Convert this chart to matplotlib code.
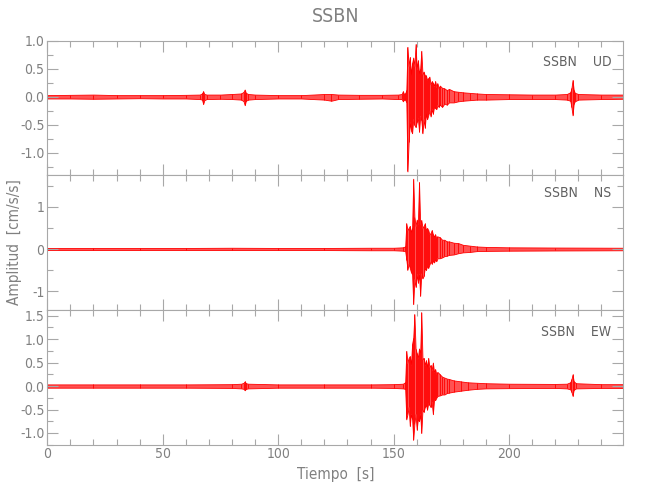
# Seismogram SSBN - three components
import matplotlib
matplotlib.use('Agg')
import matplotlib.pyplot as plt
from matplotlib.ticker import MultipleLocator

plt.rcParams['font.family'] = ['Liberation Sans Narrow', 'DejaVu Sans']
plt.rcParams['font.stretch'] = 'condensed'

# Data: envelope knots (time [s], max, min)
ud_t = [0, 10, 20, 30, 40, 50, 60, 66, 67, 67.5, 68, 69, 75, 80, 84, 85, 85.5, 86, 87,
        90, 100, 110, 120, 123, 126, 135, 145, 152, 153.5, 154, 154.5, 155, 155.5,
        156, 156.5, 157, 157.5, 158, 158.5, 159, 159.5, 160, 160.5, 161, 161.5, 162,
        162.5, 163, 163.5, 164, 164.5, 165, 165.5, 166, 166.5, 167, 167.5, 168, 168.5,
        169, 169.5, 170, 171, 172, 173, 174, 176, 178, 180, 183, 186, 190, 200, 210,
        220, 225, 226.5, 227, 227.5, 228, 228.5, 230, 240, 249.5]
ud_hi = [0.03, 0.035, 0.04, 0.03, 0.03, 0.03, 0.035, 0.04, 0.06, 0.10, 0.05, 0.04, 0.04,
         0.05, 0.06, 0.09, 0.13, 0.07, 0.05, 0.04, 0.03, 0.03, 0.05, 0.05, 0.04, 0.035,
         0.035, 0.04, 0.05, 0.10, 0.05, 0.06, 0.12, 0.89, 0.55, 0.71, 0.40, 0.60, 0.70,
         0.55, 0.94, 0.50, 0.65, 0.42, 0.50, 0.82, 0.40, 0.45, 0.38, 0.38, 0.30, 0.33,
         0.36, 0.22, 0.28, 0.25, 0.20, 0.28, 0.18, 0.24, 0.15, 0.20, 0.16, 0.15, 0.12,
         0.14, 0.10, 0.09, 0.08, 0.07, 0.06, 0.05, 0.045, 0.04, 0.04, 0.05, 0.08, 0.15,
         0.30, 0.12, 0.07, 0.05, 0.04, 0.04]
ud_lo = [-0.03, -0.03, -0.035, -0.03, -0.025, -0.03, -0.03, -0.04, -0.05, -0.13, -0.06,
         -0.04, -0.035, -0.04, -0.05, -0.08, -0.15, -0.07, -0.05, -0.04, -0.03, -0.03,
         -0.05, -0.07, -0.04, -0.035, -0.03, -0.04, -0.04, -0.08, -0.05, -0.05, -0.10,
         -1.33, -0.80, -0.45, -0.60, -0.65, -0.40, -0.50, -0.54, -0.45, -0.38, -0.62,
         -0.35, -0.42, -0.65, -0.40, -0.55, -0.30, -0.40, -0.33, -0.25, -0.35, -0.22,
         -0.30, -0.18, -0.20, -0.22, -0.15, -0.18, -0.14, -0.18, -0.12, -0.14, -0.10,
         -0.10, -0.08, -0.07, -0.06, -0.05, -0.05, -0.04, -0.04, -0.04, -0.05, -0.07,
         -0.18, -0.33, -0.12, -0.08, -0.05, -0.04, -0.035]

ns_t = [0, 20, 40, 60, 80, 100, 120, 140, 150, 154, 155, 155.5, 156, 156.5, 157, 157.5,
        158, 158.5, 159, 159.5, 160, 160.5, 161, 161.5, 162, 162.5, 163, 163.5, 164,
        164.5, 165, 165.5, 166, 166.5, 167, 167.5, 168, 168.5, 169, 170, 171, 172, 173,
        174, 176, 178, 180, 183, 186, 190, 200, 220, 249.5]
ns_hi = [0.025, 0.025, 0.025, 0.025, 0.03, 0.025, 0.025, 0.03, 0.03, 0.04, 0.06, 0.61,
         0.45, 0.50, 0.55, 0.40, 0.50, 1.67, 0.77, 0.55, 0.70, 0.60, 1.59, 0.60, 0.69,
         0.50, 0.55, 0.61, 0.45, 0.50, 0.45, 0.35, 0.38, 0.45, 0.35, 0.30, 0.35, 0.25,
         0.30, 0.28, 0.22, 0.22, 0.18, 0.18, 0.15, 0.14, 0.10, 0.08, 0.06, 0.05, 0.04,
         0.035, 0.03]
ns_lo = [-0.025, -0.025, -0.025, -0.025, -0.025, -0.025, -0.025, -0.03, -0.03, -0.04,
         -0.05, -0.25, -0.49, -0.35, -0.45, -0.55, -0.60, -1.31, -0.72, -0.90, -0.60,
         -0.80, -0.60, -1.11, -0.56, -0.70, -0.64, -0.45, -0.50, -0.40, -0.45, -0.37,
         -0.30, -0.35, -0.28, -0.32, -0.25, -0.29, -0.22, -0.22, -0.20, -0.17, -0.16,
         -0.14, -0.13, -0.10, -0.08, -0.07, -0.05, -0.045, -0.04, -0.035, -0.03]

ew_t = [0, 20, 40, 60, 80, 84, 85, 85.5, 86, 87, 100, 120, 140, 150, 154, 155, 155.5,
        156, 156.5, 157, 157.5, 158, 158.5, 159, 159.5, 160, 160.5, 161, 161.5, 162,
        162.5, 163, 163.5, 164, 164.5, 165, 165.5, 166, 166.5, 167, 167.5, 168, 168.5,
        169, 170, 171, 172, 173, 174, 176, 179, 182, 186, 190, 200, 220, 225, 226.5,
        227, 227.5, 228, 229, 240, 249.5]
ew_hi = [0.035, 0.035, 0.035, 0.035, 0.04, 0.05, 0.07, 0.10, 0.06, 0.05, 0.035, 0.035,
         0.035, 0.04, 0.05, 0.08, 0.75, 0.50, 0.60, 0.64, 0.45, 0.90, 1.03, 1.53, 0.80,
         0.70, 0.60, 0.80, 0.70, 1.57, 0.57, 0.60, 0.45, 0.55, 0.40, 0.60, 0.40, 0.45,
         0.35, 0.50, 0.30, 0.36, 0.25, 0.30, 0.25, 0.20, 0.18, 0.16, 0.15, 0.12, 0.10,
         0.08, 0.07, 0.06, 0.05, 0.045, 0.05, 0.08, 0.14, 0.25, 0.10, 0.06, 0.04, 0.04]
ew_lo = [-0.035, -0.035, -0.035, -0.035, -0.04, -0.05, -0.06, -0.09, -0.06, -0.05,
         -0.035, -0.035, -0.035, -0.04, -0.05, -0.06, -0.71, -0.60, -0.45, -0.85,
         -0.60, -0.70, -1.14, -0.80, -0.60, -0.93, -0.70, -0.75, -0.60, -1.00, -0.50,
         -0.55, -0.45, -0.40, -0.50, -0.36, -0.40, -0.45, -0.35, -0.60, -0.30, -0.30,
         -0.25, -0.21, -0.20, -0.18, -0.18, -0.15, -0.14, -0.12, -0.10, -0.08, -0.06,
         -0.05, -0.045, -0.04, -0.05, -0.07, -0.12, -0.21, -0.08, -0.05, -0.04, -0.04]

components = ['UD', 'NS', 'EW']
traces = [(ud_t, ud_hi, ud_lo), (ns_t, ns_hi, ns_lo), (ew_t, ew_hi, ew_lo)]
ylims = [(-1.4, 1.0), (-1.45, 1.75), (-1.25, 1.62)]
ymajor = [0.5, 1.0, 0.5]
yminor = [0.25, 0.5, 0.25]
yfmt = ['%.1f', '%.0f', '%.1f']

txt_col = '#808080'
ax_col = '#a8a8a8'

fig = plt.figure(figsize=(6.5, 5), dpi=100)
left, right, top, bottom = 0.0728, 0.959, 0.9186, 0.1106
h = (top - bottom) / 3

axes = []
for i, comp in enumerate(components):
    ax = fig.add_axes([left, top - (i + 1) * h, right - left, h])
    t, hi, lo = traces[i]
    # envelope fill with red outline, red strokes at each knot
    ax.fill_between(t, lo, hi, facecolor='#ff5252', edgecolor='red', lw=0.6)
    ax.vlines(t, lo, hi, color='red', lw=0.6)

    ax.set_xlim(0, 249.5)
    ax.set_ylim(*ylims[i])
    ax.xaxis.set_major_locator(MultipleLocator(50))
    ax.xaxis.set_minor_locator(MultipleLocator(10))
    ax.yaxis.set_major_locator(MultipleLocator(ymajor[i]))
    ax.yaxis.set_minor_locator(MultipleLocator(yminor[i]))
    ax.yaxis.set_major_formatter(plt.FormatStrFormatter(yfmt[i]))
    ax.tick_params(which='both', direction='in', top=True, right=True,
                   colors=ax_col, labelcolor=txt_col, labelsize=10, pad=2)
    ax.tick_params(which='major', length=8, width=0.8)
    ax.tick_params(which='minor', length=4, width=0.8)
    for s in ax.spines.values():
        s.set_color(ax_col)
        s.set_linewidth(0.8)
    if i < 2:
        ax.tick_params(labelbottom=False)
    ax.text(0.979, 0.84 if i != 1 else 0.867, 'SSBN    ' + comp, transform=ax.transAxes,
            ha='right', va='center', fontsize=10, color='#606060')
    axes.append(ax)

axes[-1].set_xlabel('Tiempo  [s]', fontsize=11, color=txt_col, labelpad=4)
fig.text(0.516, 0.968, 'SSBN', ha='center', va='center', fontsize=14, color=txt_col)
fig.text(0.022, 0.515, 'Amplitud  [cm/s/s]', rotation=90, ha='center', va='center',
         fontsize=11, color=txt_col)

fig.savefig('out.png', dpi=100)
